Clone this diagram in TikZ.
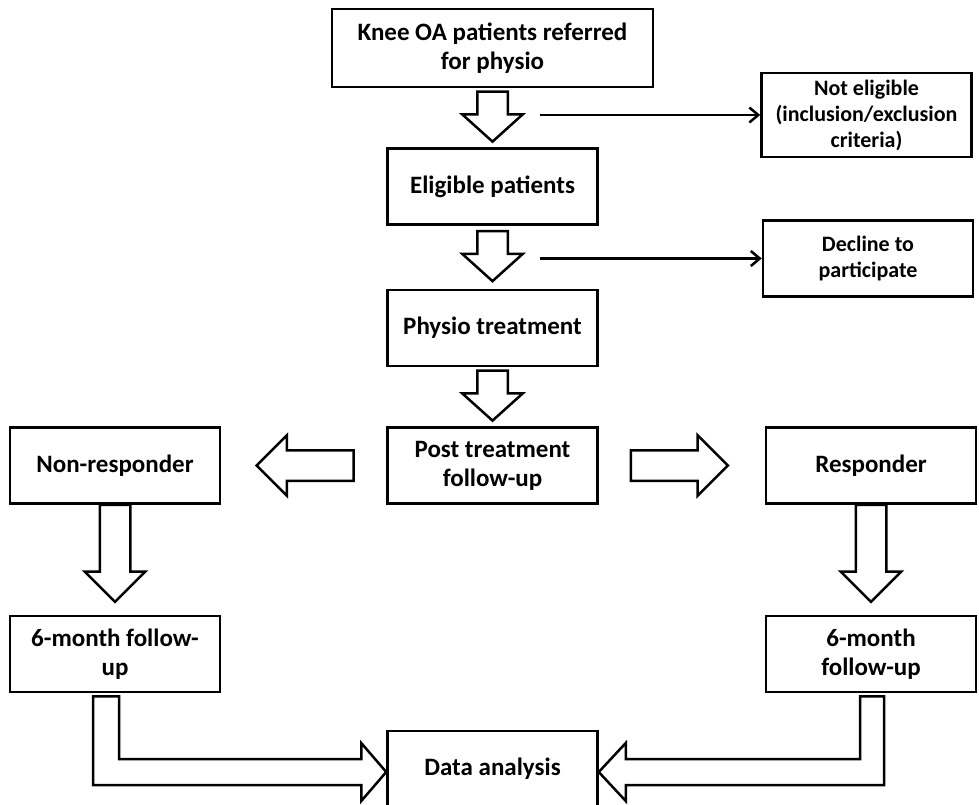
\documentclass[tikz,border=0pt]{standalone}
\usepackage{fontspec}
\setmainfont{Carlito}
\usepackage{tikz}
\usetikzlibrary{positioning,calc,shapes.arrows,arrows.meta}

\begin{document}
\begin{tikzpicture}[x=1pt, y=-1pt,
    box/.style={rectangle, draw, line width=2.5pt, minimum width=210pt, minimum height=76pt,
        inner sep=2pt, align=center, font=\bfseries\fontsize{25}{29}\selectfont},
    smallbox/.style={box, font=\bfseries\fontsize{22}{26}\selectfont},
    fatarrow/.style={single arrow, draw, line width=2.5pt, inner sep=14pt, minimum width=58pt,
        single arrow head extend=15pt, single arrow tip angle=96, minimum height=50pt},
    fatline/.style={draw, line width=2.5pt},
    thinarrow/.style={-{Straight Barb[length=9pt,width=15pt]}, line width=2.5pt}]
    \useasboundingbox (0,0) rectangle (979,804);

    \node[box, minimum width=321pt, minimum height=78pt] (knee) at (492.5,48) {Knee OA patients referred\\for physio};
    \node[box, below=59pt of knee] (elig) {Eligible patients};
    \node[box, below=63pt of elig] (physio) {Physio treatment};
    \node[box, below=59pt of physio] (post) {Post treatment\\follow-up};
    \node[box, left=165pt of post] (nonresp) {Non-responder};
    \node[box, right=166pt of post] (resp) {Responder};
    \node[box, below=110pt of nonresp] (lfu) {6-month follow-\\up};
    \node[box, below=110pt of resp] (rfu) {6-month\\follow-up};
    \node[box, below=225pt of post] (data) {Data analysis};
    \node[smallbox, minimum height=84pt] (notel) at (866.5,115) {Not eligible\\(inclusion/exclusion\\criteria)};
    \node[smallbox] (decl) at (868,258.5) {Decline to\\participate};

    \node[fatarrow, shape border rotate=270] (a1) at ($(knee.south)!0.5!(elig.north)+(0,-8)$) {};
    \node[fatarrow, shape border rotate=270] (a2) at ($(elig.south)!0.5!(physio.north)+(0,-8)$) {};
    \node[fatarrow, shape border rotate=270] (a3) at ($(physio.south)!0.5!(post.north)+(0,-8)$) {};
    \node[fatarrow, shape border rotate=180, minimum height=97pt, single arrow tip angle=90] (a4) at ($(nonresp.east)!0.5!(post.west)+(9,0)$) {};
    \node[fatarrow, minimum height=97pt, single arrow tip angle=90] (a5) at ($(post.east)!0.5!(resp.west)+(-10,0)$) {};
    \node[fatarrow, shape border rotate=270, minimum height=97pt, single arrow tip angle=90] (a6) at ($(nonresp.south)!0.5!(lfu.north)+(0,-14)$) {};
    \node[fatarrow, shape border rotate=270, minimum height=97pt, single arrow tip angle=90] (a7) at ($(resp.south)!0.5!(rfu.north)+(0,-14)$) {};

    \draw[thinarrow] (540,0 |- notel.west) -- (notel.west);
    \draw[thinarrow] (540,0 |- decl.west) -- (decl.west);

    \coordinate (lt) at ($(lfu.south)+(-9,3)$);
    \coordinate (dl) at ($(data.west)+(0,3)$);
    \draw[fatline] ($(lt)+(-13,0)$) |- ($(dl)+(-25,13)$) -- ++(0,16) -- (dl) -- ++(-25,-29) -- ++(0,16) -| ($(lt)+(13,0)$) -- cycle;

    \coordinate (rt) at ($(rfu.south)+(1,3)$);
    \coordinate (dr) at ($(data.east)+(0,3)$);
    \draw[fatline] ($(rt)+(12,0)$) |- ($(dr)+(27,13)$) -- ++(0,16) -- (dr) -- ++(27,-29) -- ++(0,16) -| ($(rt)+(-12,0)$) -- cycle;
\end{tikzpicture}
\end{document}
